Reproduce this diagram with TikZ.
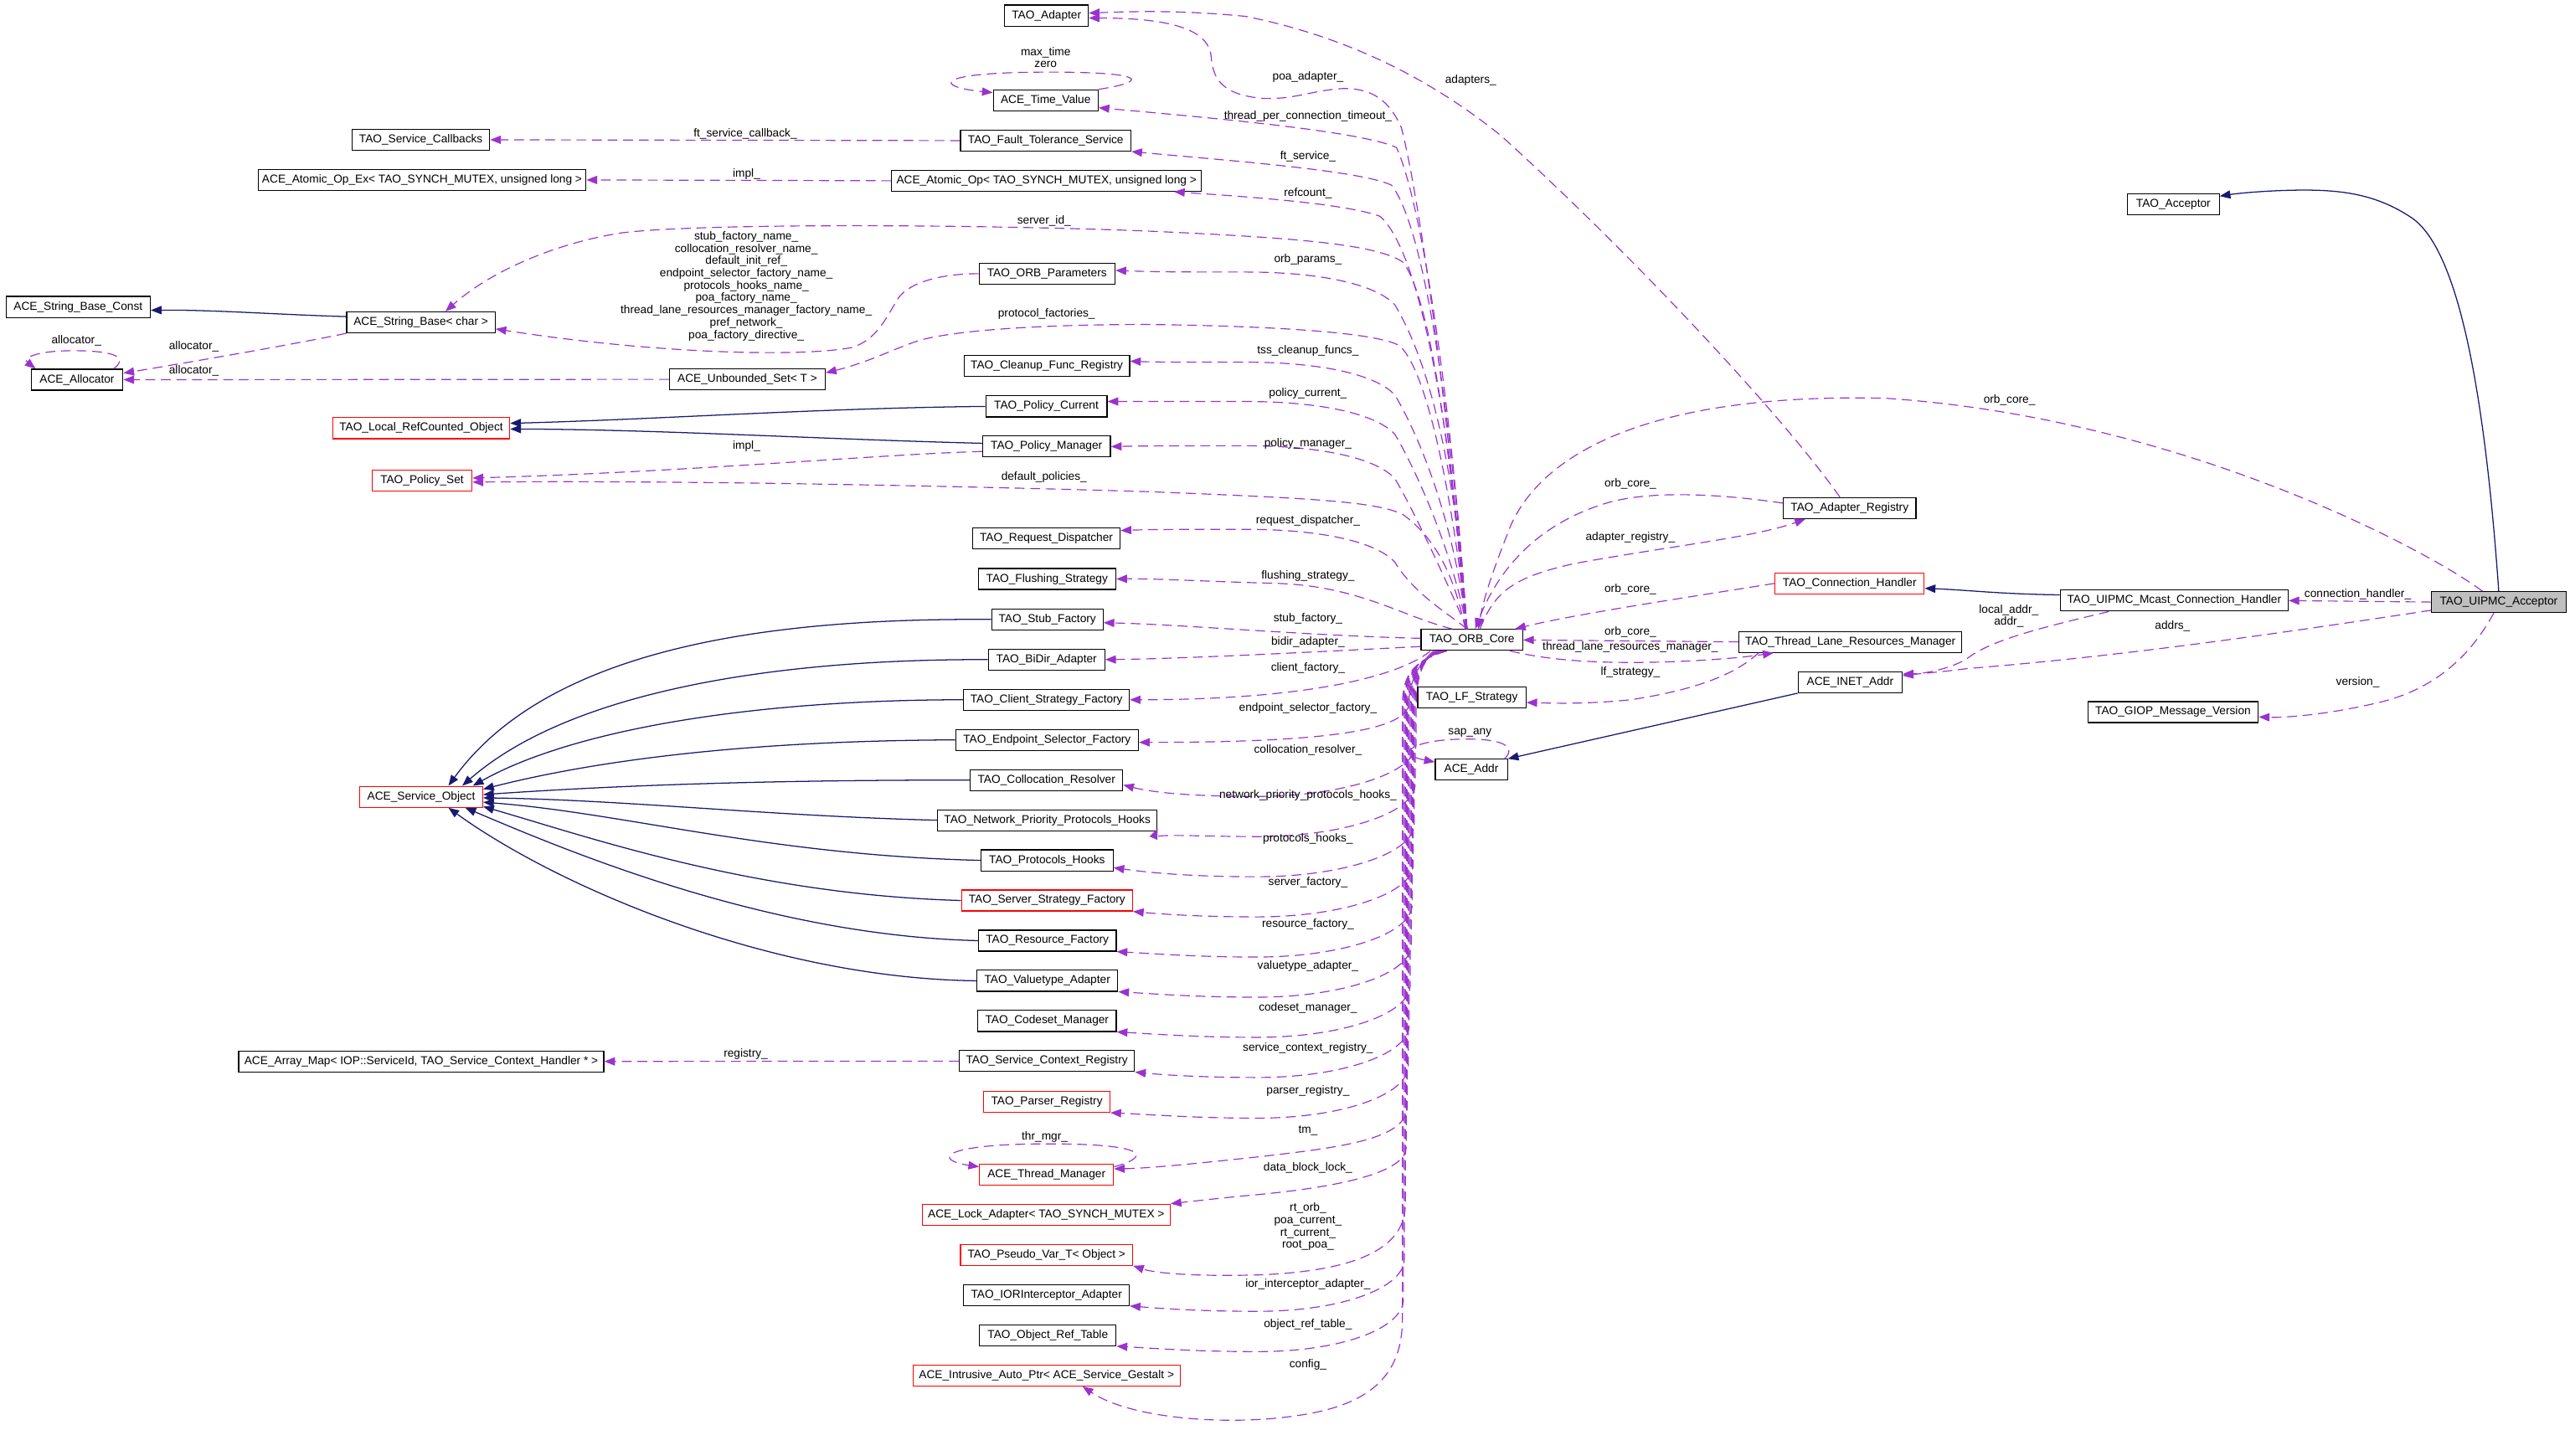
\documentclass[tikz,border=0pt]{standalone}
\usepackage{fontspec}
\setmainfont{Liberation Sans}
\usetikzlibrary{arrows.meta}
\definecolor{dpurple}{HTML}{9A32CD}
\definecolor{dblue}{HTML}{191970}
\definecolor{accgray}{HTML}{BFBFBF}
\tikzset{
 cls/.style={draw=black, line width=0.6pt, rectangle, minimum height=12.8pt, inner xsep=2pt, inner ysep=0pt, fill=white, font=\fontsize{7}{8}\selectfont},
 redcls/.style={cls, draw=red},
 use/.style={draw=dpurple, line width=0.6pt, dash pattern=on 6pt off 3.5pt, -{Triangle[length=6.5pt,width=5pt]}},
 inh/.style={draw=dblue, line width=0.65pt, -{Triangle[length=6.5pt,width=5pt]}},
 lab/.style={inner sep=0pt, align=center, font=\fontsize{7}{7.5}\selectfont},
}
% upper edge: ORB core -> target above it
\newcommand\upedge[2]{\draw[use] ([xshift=-3pt]ORB.north) .. controls (886,{min(#2+90,376)}) and (863,{#2+40}) .. (851,{#2+20}) .. controls (838,{#2+6}) and (800,{#2}) .. (760,{#2}) .. controls (725,{#2}) and (705,{#2}) .. (#1);}
% lower edge: ORB core -> target below it, through the bundle
\newcommand\lowedge[4]{\draw[use] ([xshift=#4pt]ORB.south west) .. controls (#3+3,404) and (#3,415) .. (#3,432) -- (#3,#2-22) .. controls (#3,#2-4) and (818,#2+10) .. (767,#2+10) .. controls (730,#2+10) and (705,#2+8) .. (#1);}
\begin{document}
\begin{tikzpicture}[x=1pt,y=-1pt]
\fill[white] (0,0) rectangle (1568,888);
\useasboundingbox (0,0) rectangle (1568,888);

% ---------------- nodes ----------------
\node[cls,minimum width=51pt] (Adapter) at (638.5,9.5) {TAO\_Adapter};
\node[cls,minimum width=64pt] (TimeV) at (638,61.2) {ACE\_Time\_Value};
\node[cls,minimum width=84pt] (SvcCB) at (256.8,85.3) {TAO\_Service\_Callbacks};
\node[cls,minimum width=104pt] (FT) at (638,85.8) {TAO\_Fault\_Tolerance\_Service};
\node[cls,minimum width=200pt] (AOE) at (257.5,109.8) {ACE\_Atomic\_Op\_Ex< TAO\_SYNCH\_MUTEX, unsigned long >};
\node[cls,minimum width=189pt] (AO) at (638.5,110.3) {ACE\_Atomic\_Op< TAO\_SYNCH\_MUTEX, unsigned long >};
\node[cls,minimum width=56pt] (Acc) at (1326,124.7) {TAO\_Acceptor};
\node[cls,minimum width=88pt] (SBC) at (47.7,187.3) {ACE\_String\_Base\_Const};
\node[cls,minimum width=90.5pt] (SB) at (256.8,196.7) {ACE\_String\_Base< char >};
\node[cls,minimum width=83pt] (ORBP) at (638.8,167) {TAO\_ORB\_Parameters};
\node[cls,minimum width=56pt] (Alloc) at (47,231.7) {ACE\_Allocator};
\node[cls,minimum width=95pt] (UnbSet) at (456,231.5) {ACE\_Unbounded\_Set< T >};
\node[cls,minimum width=101pt] (Cleanup) at (638.7,223.4) {TAO\_Cleanup\_Func\_Registry};
\node[cls,minimum width=74pt] (PC) at (638.4,248) {TAO\_Policy\_Current};
\node[redcls,minimum width=108pt] (LRO) at (257,261.3) {TAO\_Local\_RefCounted\_Object};
\node[cls,minimum width=78pt] (PM) at (638.5,272.5) {TAO\_Policy\_Manager};
\node[redcls,minimum width=61pt] (PS) at (257.5,293.2) {TAO\_Policy\_Set};
\node[cls,minimum width=81pt] (AR) at (1128.5,310) {TAO\_Adapter\_Registry};
\node[cls,minimum width=90pt] (RD) at (638.4,328.7) {TAO\_Request\_Dispatcher};
\node[cls,minimum width=84pt] (FS) at (638.8,353.3) {TAO\_Flushing\_Strategy};
\node[redcls,minimum width=91pt] (CH) at (1128.5,356) {TAO\_Connection\_Handler};
\node[cls,minimum width=139pt] (MCH) at (1326.5,366.5) {TAO\_UIPMC\_Mcast\_Connection\_Handler};
\node[cls,fill=accgray,minimum width=82pt] (UA) at (1524.5,367.4) {TAO\_UIPMC\_Acceptor};
\node[cls,minimum width=68pt] (StubF) at (639,378) {TAO\_Stub\_Factory};
\node[cls,minimum width=62pt] (ORB) at (898,390.5) {TAO\_ORB\_Core};
\node[cls,minimum width=136pt] (TLRM) at (1129,391.7) {TAO\_Thread\_Lane\_Resources\_Manager};
\node[cls,minimum width=71pt] (BiDir) at (638.5,402.5) {TAO\_BiDir\_Adapter};
\node[cls,minimum width=63.5pt] (INET) at (1128.8,416.3) {ACE\_INET\_Addr};
\node[cls,minimum width=66pt] (LF) at (898,425.7) {TAO\_LF\_Strategy};
\node[cls,minimum width=101pt] (CSF) at (638.5,427) {TAO\_Client\_Strategy\_Factory};
\node[cls,minimum width=104pt] (GIOP) at (1325.8,434.5) {TAO\_GIOP\_Message\_Version};
\node[cls,minimum width=111.6pt] (ESF) at (638.8,451.5) {TAO\_Endpoint\_Selector\_Factory};
\node[cls,minimum width=44pt] (Addr) at (897.7,469.7) {ACE\_Addr};
\node[cls,minimum width=93pt] (CR) at (638.5,476) {TAO\_Collocation\_Resolver};
\node[redcls,minimum width=75pt] (SO) at (257,486.2) {ACE\_Service\_Object};
\node[cls,minimum width=134pt] (NPPH) at (639,500.5) {TAO\_Network\_Priority\_Protocols\_Hooks};
\node[cls,minimum width=80.5pt] (PH) at (638.8,525) {TAO\_Protocols\_Hooks};
\node[redcls,minimum width=104.3pt] (SSF) at (638.8,549.5) {TAO\_Server\_Strategy\_Factory};
\node[cls,minimum width=84pt] (RF) at (639,574) {TAO\_Resource\_Factory};
\node[cls,minimum width=86pt] (VA) at (639,598.5) {TAO\_Valuetype\_Adapter};
\node[cls,minimum width=84.5pt] (CM) at (638.8,623) {TAO\_Codeset\_Manager};
\node[cls,minimum width=222.7pt] (AM) at (257,647.7) {ACE\_Array\_Map< IOP::ServiceId, TAO\_Service\_Context\_Handler * >};
\node[cls,minimum width=107pt] (SCR) at (638.7,647.5) {TAO\_Service\_Context\_Registry};
\node[redcls,minimum width=77pt] (PR) at (638.7,672.3) {TAO\_Parser\_Registry};
\node[redcls,minimum width=81.7pt] (TM) at (638.5,716.7) {ACE\_Thread\_Manager};
\node[redcls,minimum width=151.3pt] (LA) at (638.3,741.2) {ACE\_Lock\_Adapter< TAO\_SYNCH\_MUTEX >};
\node[redcls,minimum width=105pt] (PV) at (638.5,765.7) {TAO\_Pseudo\_Var\_T< Object >};
\node[cls,minimum width=101pt] (IOR) at (638.5,790.2) {TAO\_IORInterceptor\_Adapter};
\node[cls,minimum width=83.3pt] (ORT) at (639.3,814.8) {TAO\_Object\_Ref\_Table};
\node[redcls,minimum width=163pt] (IAP) at (638.5,839.3) {ACE\_Intrusive\_Auto\_Ptr< ACE\_Service\_Gestalt >};

% ---------------- inheritance (solid) ----------------
\draw[inh] (UA.north) .. controls (1516,240) and (1500,150) .. (1470,132) .. controls (1450,119) and (1430,116) .. (1406,116) .. controls (1385,116) and (1365,118) .. ([yshift=5pt]Acc.east);
\draw[inh] ([yshift=3.5pt]MCH.west) .. controls (1220,362.5) and (1200,360) .. ([yshift=-3pt]CH.east);
\draw[inh] (INET.south west) -- (Addr.north east);
\draw[inh] ([yshift=3.5pt]SB.west) .. controls (170,192) and (130,189) .. ([yshift=-2pt]SBC.east);
\draw[inh] (PC.west) .. controls (500,249) and (400,256) .. ([yshift=3pt]LRO.east);
\draw[inh] ([yshift=2pt]PM.west) .. controls (500,268) and (400,262) .. ([yshift=-0.5pt]LRO.east);
\draw[inh] (StubF.west) .. controls (470,377) and (335,395) .. (SO.22);
\draw[inh] (BiDir.west) .. controls (480,402) and (350,420) .. (SO.15);
\draw[inh] (CSF.west) .. controls (460,427) and (350,445) .. (SO.12);
\draw[inh] (ESF.west) .. controls (450,452) and (360,465) .. (SO.7);
\draw[inh] (CR.west) .. controls (470,476) and (380,479) .. (SO.2);
\draw[inh] (NPPH.west) .. controls (470,498) and (380,488) .. (SO.-1);
\draw[inh] (PH.west) .. controls (470,522) and (380,496) .. (SO.-5);
\draw[inh] (SSF.west) .. controls (460,546) and (360,511) .. (SO.-9);
\draw[inh] (RF.west) .. controls (470,571) and (350,521) .. (SO.-14);
\draw[inh] (VA.west) .. controls (470,597) and (340,541) .. (SO.-22);

% ---------------- usage (dashed) ----------------
% self loops
\draw[use] (TimeV.north east) .. controls (700,50) and (702,44) .. (640,44) .. controls (568,44) and (570,53) .. ([yshift=-2pt]TimeV.north west);
\draw[use] ([xshift=-6pt]Alloc.north east) .. controls (80,217) and (66,214) .. (45,214) .. controls (20,214) and (14,219) .. ([xshift=3pt]Alloc.north west);
\draw[use] ([yshift=-2pt]TM.north east) .. controls (702,706) and (702,698) .. (640,698) .. controls (572,698) and (570,708) .. ([yshift=-2pt]TM.north west);
\draw[use] ([xshift=-2pt]Addr.north east) .. controls (925,456) and (918,451) .. (895,451) .. controls (862,451) and (850,460) .. ([yshift=-2pt]Addr.north west);

% left-hand plain edges
\draw[use] (FT.west) -- (SvcCB.east);
\draw[use] (AO.west) -- (AOE.east);
\draw[use] (SB.south west) .. controls (180,210) and (110,222) .. ([yshift=4pt]Alloc.east);
\draw[use] (UnbSet.west) -- (Alloc.east);
\draw[use] ([yshift=-3pt]PM.west) .. controls (540,277) and (420,288) .. ([yshift=1.5pt]PS.east);
\draw[use] (SCR.west) -- (AM.east);
\draw[use] (ORBP.west) .. controls (575,167) and (555,172) .. (548,182) .. controls (540,195) and (535,207) .. (520,212) .. controls (490,218) and (400,216) .. ([yshift=-4pt]SB.east);

% ORB core -> upper targets
\draw[use] ([xshift=-4pt]ORB.north) .. controls (884,250) and (866,120) .. (855,78) .. controls (848,62) and (838,54) .. (820,54) .. controls (800,55) and (790,61) .. (770,60) .. controls (748,58) and (740,50) .. (739,35) .. controls (738,20) and (720,11) .. ([yshift=-1.5pt]Adapter.east);
\draw[use] ([xshift=-3pt]ORB.north) .. controls (886,250) and (868,125) .. (852,90) .. controls (830,80) and (740,72) .. (TimeV.-8);
\draw[use] ([xshift=-3pt]ORB.north) .. controls (886,260) and (870,140) .. (849,113) .. controls (830,104) and (750,98) .. (FT.south east);
\draw[use] ([xshift=-3pt]ORB.north) .. controls (886,270) and (868,155) .. (842,132) .. controls (820,124) and (760,120) .. ([xshift=-17pt]AO.south east);
\draw[use] ([xshift=-3pt]ORB.north) .. controls (887,300) and (875,185) .. (856,160) .. controls (840,149) and (790,145) .. (700,141) .. controls (600,137) and (430,136) .. (380,142) .. controls (340,148) and (300,165) .. ([xshift=15pt]SB.north);
\upedge{[yshift=2pt]ORBP.east}{166}
\draw[use] ([xshift=-3pt]ORB.north) .. controls (887,310) and (872,228) .. (854,211) .. controls (840,203) and (780,199) .. (700,198) .. controls (630,198) and (580,202) .. (560,208) .. controls (545,213) and (530,221) .. ([yshift=4pt]UnbSet.east);
\upedge{[yshift=3pt]Cleanup.east}{221}
\upedge{[yshift=3pt]PC.east}{245}
\upedge{PM.east}{272}
\draw[use] ([xshift=-4pt]ORB.north) .. controls (888,355) and (878,330) .. (856,314) .. controls (840,306) and (800,304) .. (700,300) .. controls (600,297) and (420,293) .. ([yshift=-1pt]PS.east);
\upedge{[yshift=5pt]RD.east}{323}
\draw[use] ([xshift=-12pt]ORB.north) .. controls (855,376) and (830,358) .. (780,356) .. controls (740,355) and (705,353) .. (FS.east);
\draw[use] ([yshift=1pt]ORB.west) .. controls (800,388) and (720,381) .. ([yshift=-2pt]StubF.east);
\draw[use] ([yshift=-4pt]ORB.west) .. controls (800,398) and (720,402) .. (BiDir.east);

% ORB core -> lower targets
\draw[use] ([xshift=6pt]ORB.south west) .. controls (855,412) and (800,427) .. (CSF.east);
\draw[use] ([xshift=8pt]ORB.south west) .. controls (862,408) and (860,420) .. (859,432) .. controls (852,447) and (800,453) .. ([yshift=-1.5pt]ESF.east);
\lowedge{[yshift=-3pt]CR.east}{476}{864}{9}
\lowedge{[yshift=-5pt]NPPH.east}{500.5}{863.4}{10}
\lowedge{[yshift=-4.5pt]PH.east}{525}{862.8}{10}
\lowedge{SSF.south east}{549.5}{862.2}{11}
\lowedge{RF.south east}{574}{861.6}{11}
\lowedge{VA.south east}{598.5}{861}{12}
\lowedge{CM.south east}{623}{860.4}{12}
\lowedge{SCR.south east}{647.5}{859.8}{13}
\lowedge{PR.south east}{672.3}{859.2}{13}
\draw[use] ([xshift=14pt]ORB.south west) .. controls (861,404) and (858.6,415) .. (858.6,432) -- (858.6,675) .. controls (858.6,695) and (820,700) .. (767,706) .. controls (730,710) and (700,713) .. ([yshift=3.5pt]TM.east);
\draw[use] ([xshift=14pt]ORB.south west) .. controls (860,404) and (858,415) .. (858,432) -- (858,700) .. controls (858,715) and (820,724) .. (767,729) .. controls (745,731) and (728,733) .. (LA.north east);
\draw[use] ([xshift=15pt]ORB.south west) .. controls (860,404) and (857.4,415) .. (857.4,432) -- (857.4,735) .. controls (857.4,765) and (820,776) .. (767,778) .. controls (730,779) and (705,777) .. (PV.south east);
\lowedge{IOR.south east}{790.2}{856.8}{15}
\lowedge{ORT.south east}{814.8}{856.2}{16}
\draw[use] ([xshift=16pt]ORB.south west) .. controls (859,404) and (855.6,415) .. (855.6,432) -- (855.6,805) .. controls (855.6,840) and (835,858) .. (790,864) .. controls (750,870) and (690,866) .. ([xshift=22pt]IAP.south);

% right-hand edges
\draw[use] ([xshift=-10pt]UA.north) .. controls (1480,335) and (1330,255) .. (1150,243) .. controls (1020,240) and (945,270) .. (922,320) .. controls (912,345) and (905,365) .. ([xshift=4pt]ORB.north);
\draw[use] ([xshift=-6pt]AR.north) .. controls (1085,250) and (990,150) .. (916,83) .. controls (885,58) and (835,25) .. (760,10) .. controls (720,6) and (690,7) .. ([yshift=1.5pt]Adapter.east);
\draw[use] ([yshift=3pt]AR.west) .. controls (1040,300) and (1000,300) .. (977,308) .. controls (940,320) and (915,345) .. ([xshift=2pt]ORB.north);
\draw[use] ([xshift=5pt]ORB.north) .. controls (912,360) and (925,352) .. (960,344) .. controls (1020,333) and (1070,328) .. ([xshift=-27pt]AR.south);
\draw[use] (CH.west) .. controls (1020,366) and (960,375) .. ([xshift=-5pt]ORB.north east);
\draw[use] (TLRM.west) -- (ORB.east);
\draw[use] ([xshift=-8pt]ORB.south east) .. controls (945,403) and (975,405) .. (1014,404) .. controls (1045,403) and (1065,401) .. ([xshift=-47pt]TLRM.south);
\draw[use] ([xshift=-56pt]TLRM.south) .. controls (1060,410) and (1040,420) .. (995,427) .. controls (965,430) and (945,429) .. ([yshift=-3pt]LF.east);
\draw[use] (UA.west) -- (MCH.east);
\draw[use] ([xshift=-40pt]MCH.south) .. controls (1250,382) and (1215,390) .. (1200,402) .. controls (1190,408) and (1175,411) .. ([yshift=5pt]INET.east);
\draw[use] ([yshift=-5pt]UA.west) .. controls (1400,385) and (1300,400) .. (1200,408) .. controls (1185,410) and (1172,411) .. ([yshift=4pt]INET.east);
\draw[use] ([xshift=-3pt]UA.south) .. controls (1510,395) and (1490,420) .. (1450,429) .. controls (1420,436) and (1395,438) .. ([yshift=-3pt]GIOP.east);

% ---------------- labels ----------------
\node[lab] (L1) at (798,46.8) {poa\_adapter\_};
\node[lab] (L2) at (798,71.2) {thread\_per\_connection\_timeout\_};
\node[lab] (L3) at (798,95.4) {ft\_service\_};
\node[lab] (L4) at (798,117.9) {refcount\_};
\node[lab] (L5) at (637,134.6) {server\_id\_};
\node[lab] (L6) at (798,158.4) {orb\_params\_};
\node[lab] (L7) at (455.3,174.6) {stub\_factory\_name\_\\collocation\_resolver\_name\_\\default\_init\_ref\_\\endpoint\_selector\_factory\_name\_\\protocols\_hooks\_name\_\\poa\_factory\_name\_\\thread\_lane\_resources\_manager\_factory\_name\_\\pref\_network\_\\poa\_factory\_directive\_};
\node[lab] (L8) at (638.5,191.6) {protocol\_factories\_};
\node[lab] (L9) at (798,214.3) {tss\_cleanup\_funcs\_};
\node[lab] (L10) at (798,240.2) {policy\_current\_};
\node[lab] (L11) at (798,270.8) {policy\_manager\_};
\node[lab] (L12) at (455.5,272.5) {impl\_};
\node[lab] (L13) at (637,291.3) {default\_policies\_};
\node[lab] (L14) at (798,317.7) {request\_dispatcher\_};
\node[lab] (L15) at (798,351.4) {flushing\_strategy\_};
\node[lab] (L16) at (798,377.6) {stub\_factory\_};
\node[lab] (L17) at (798,392) {bidir\_adapter\_};
\node[lab] (L18) at (798,407.6) {client\_factory\_};
\node[lab] (L19) at (798,432.3) {endpoint\_selector\_factory\_};
\node[lab] (L20) at (798,457.7) {collocation\_resolver\_};
\node[lab] (L21) at (798,485.4) {network\_priority\_protocols\_hooks\_};
\node[lab] (L22) at (798,511.9) {protocols\_hooks\_};
\node[lab] (L23) at (798,538.6) {server\_factory\_};
\node[lab] (L24) at (798,563.8) {resource\_factory\_};
\node[lab] (L25) at (798,589.7) {valuetype\_adapter\_};
\node[lab] (L26) at (798,614.9) {codeset\_manager\_};
\node[lab] (L27) at (798,639.6) {service\_context\_registry\_};
\node[lab] (L28) at (798,665.5) {parser\_registry\_};
\node[lab] (L29) at (798,689.8) {tm\_};
\node[lab] (L30) at (798,712.8) {data\_block\_lock\_};
\node[lab] (L31) at (798,748.6) {rt\_orb\_\\poa\_current\_\\rt\_current\_\\root\_poa\_};
\node[lab] (L32) at (798,783.9) {ior\_interceptor\_adapter\_};
\node[lab] (L33) at (798,808.2) {object\_ref\_table\_};
\node[lab] (L34) at (798,833) {config\_};
\node[lab] (L35) at (637.4,694) {thr\_mgr\_};
\node[lab] (L36) at (638,35) {max\_time\\zero};
\node[lab] (L37) at (454.7,81.8) {ft\_service\_callback\_};
\node[lab] (L38) at (455.5,106) {impl\_};
\node[lab] (L39) at (46.6,208) {allocator\_};
\node[lab] (L40) at (118.3,211.6) {allocator\_};
\node[lab] (L41) at (118.3,226.5) {allocator\_};
\node[lab] (L42) at (455,643.4) {registry\_};
\node[lab] (L43) at (896.8,447) {sap\_any};
\node[lab] (L44) at (994.7,295.5) {orb\_core\_};
\node[lab] (L45) at (994.7,328) {adapter\_registry\_};
\node[lab] (L46) at (994.7,359.7) {orb\_core\_};
\node[lab] (L47) at (994.7,385.8) {orb\_core\_};
\node[lab] (L48) at (994.7,395) {thread\_lane\_resources\_manager\_};
\node[lab] (L49) at (994.7,410) {lf\_strategy\_};
\node[lab] (L50) at (1226,244) {orb\_core\_};
\node[lab] (L51) at (897.3,49) {adapters\_};
\node[lab] (L52) at (1438.5,362.8) {connection\_handler\_};
\node[lab] (L53) at (1225.6,376) {local\_addr\_\\addr\_};
\node[lab] (L54) at (1325.5,382) {addrs\_};
\node[lab] (L55) at (1438.5,416.5) {version\_};
\end{tikzpicture}
\end{document}
